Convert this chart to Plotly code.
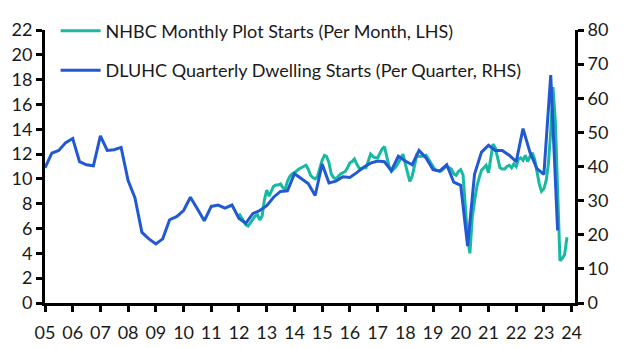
import pandas as pd
import plotly.graph_objects as go

# DLUHC quarterly dwelling starts (thousands, per quarter, RHS), 2005Q1 - 2023Q3
dluhc_values = [
    39.6, 43.9, 44.7, 47.0,
    48.2, 41.4, 40.5, 40.2,
    49.0, 44.7, 44.9, 45.6,
    35.9, 30.8, 20.7, 18.8,
    17.3, 18.8, 24.4, 25.3,
    27.1, 31.0, 27.6, 24.1,
    28.3, 28.7, 27.8, 28.7,
    24.8, 23.4, 26.2, 27.1,
    28.5, 31.0, 32.7, 32.9,
    37.9, 36.5, 35.0, 31.5,
    40.7, 35.2, 35.7, 37.0,
    36.8, 38.2, 39.8, 41.0,
    41.6, 41.4, 38.8, 43.0,
    41.6, 40.5, 44.7, 42.5,
    39.1, 38.7, 40.5, 35.4,
    34.5, 16.7, 37.7, 44.2,
    46.2, 44.7, 44.7, 43.3,
    41.4, 51.1, 44.2, 39.4,
    37.7, 66.8, 21.3,
]
dluhc_dates = pd.date_range("2005-01-01", periods=len(dluhc_values), freq="QS")

# NHBC monthly plot starts (thousands, per month, LHS), Jan 2012 - Nov 2023
nhbc_values = [
    7.2, 6.9, 6.6, 6.3, 6.2, 6.5, 6.8, 7.0, 7.1, 6.7, 7.0, 8.3,
    9.1, 8.6, 9.0, 9.4, 9.5, 9.5, 9.6, 9.3, 9.2, 9.8, 10.2, 10.4,
    10.5, 10.7, 10.8, 10.9, 11.0, 11.1, 10.8, 10.3, 10.1, 10.0, 10.2, 10.8,
    11.5, 11.9, 11.8, 11.3, 10.4, 10.1, 10.0, 10.2, 10.4, 10.5, 10.6, 10.9,
    11.3, 11.4, 11.6, 11.2, 10.9, 10.8, 10.9, 10.9, 11.5, 12.0, 11.8, 11.7,
    11.7, 12.1, 12.4, 12.6, 11.7, 11.0, 10.6, 10.8, 11.0, 11.3, 11.7, 12.0,
    11.2, 10.4, 9.8, 10.2, 11.0, 11.9, 11.8, 11.8, 11.85, 11.9, 11.6, 11.4,
    11.1, 10.7, 10.65, 10.6, 10.7, 10.9, 11.0, 10.9, 10.8, 10.4, 10.3, 10.6,
    10.75, 10.3, 7.6, 5.2, 4.0, 6.9, 8.2, 9.4, 10.1, 10.7, 10.9, 11.1,
    10.5, 11.8, 12.8, 12.5, 11.6, 10.9, 10.8, 10.8, 11.0, 11.1, 10.9, 11.2,
    11.0, 11.6, 11.7, 11.5, 11.9, 11.4, 11.8, 12.1, 11.6, 10.6, 9.6, 9.0,
    9.2, 9.9, 11.2, 13.8, 17.4, 14.6, 9.2, 3.4, 3.6, 3.9, 5.3,
]
nhbc_dates = pd.date_range("2012-01-01", periods=len(nhbc_values), freq="MS")

left_ticks = list(range(0, 23, 2))
right_ticks = list(range(0, 81, 10))

TEAL = "#17B9A2"
BLUE = "#2159D3"
FONT = "Lato"

fig = go.Figure()
fig.add_trace(go.Scatter(
    x=nhbc_dates, y=nhbc_values, mode="lines",
    name="NHBC Monthly Plot Starts (Per Month, LHS)",
    line=dict(color=TEAL, width=3), legendgroup="a", yaxis="y",
))
fig.add_trace(go.Scatter(
    x=dluhc_dates, y=dluhc_values, mode="lines",
    name="DLUHC Quarterly Dwelling Starts (Per Quarter, RHS)",
    line=dict(color=BLUE, width=3), legendgroup="b", yaxis="y2",
))

fig.update_layout(
    width=626, height=348,
    margin=dict(l=45, r=51, t=14, b=45),
    paper_bgcolor="white", plot_bgcolor="white",
    font=dict(family=FONT, size=18, color="#1a1a1a"),
    showlegend=True,
    legend=dict(
        x=0.02, y=1.064, xanchor="left", yanchor="top",
        bgcolor="rgba(0,0,0,0)", borderwidth=0,
        font=dict(family=FONT, size=18, color="#1a1a1a"),
        tracegroupgap=13, itemwidth=40,
    ),
    xaxis=dict(
        type="date", automargin=False,
        range=["2005-01-01", "2024-02-15"],
        tick0="2005-01-01", dtick="M12", tickformat="%y",
        showline=True, linecolor="black", linewidth=3,
        ticks="outside", ticklen=6, tickwidth=3, tickcolor="black",
        showgrid=False, zeroline=False, ticklabelstandoff=5,
    ),
    yaxis=dict(
        range=[0, 22], tickvals=left_ticks, automargin=False,
        showline=True, linecolor="black", linewidth=3,
        ticks="outside", ticklen=6, tickwidth=3, tickcolor="black",
        showgrid=False, zeroline=False,
    ),
    yaxis2=dict(
        range=[0, 80], tickvals=right_ticks, automargin=False,
        overlaying="y", side="right",
        showline=True, linecolor="black", linewidth=3,
        ticks="outside", ticklen=6, tickwidth=3, tickcolor="black",
        showgrid=False, zeroline=False,
    ),
)

fig.write_html("out.html")
